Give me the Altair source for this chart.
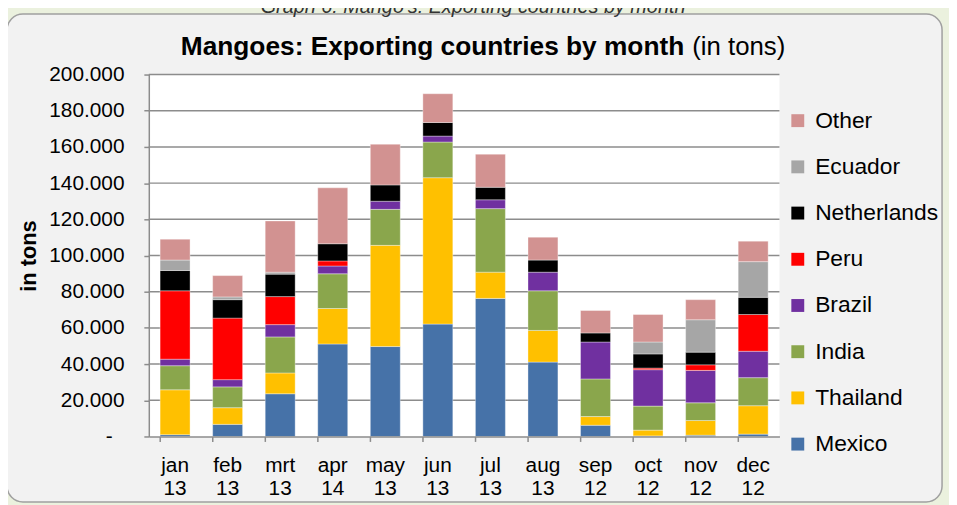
import altair as alt
import pandas as pd

months = ["jan 13", "feb 13", "mrt 13", "apr 14", "may 13", "jun 13",
          "jul 13", "aug 13", "sep 12", "oct 12", "nov 12", "dec 12"]

mexico      = [1000, 6700, 23600, 51100, 49700, 62100, 76300, 41100, 6200, 300, 700, 1300]
thailand    = [24800, 9200, 11500, 19600, 55900, 80900, 14500, 17500, 4800, 3200, 8100, 15700]
india       = [13300, 11500, 19900, 19200, 19900, 19700, 35100, 21900, 20800, 13300, 9800, 15500]
brazil      = [3600, 4000, 6800, 4300, 4500, 3300, 4900, 10300, 20400, 20100, 17900, 14600]
peru        = [37800, 34000, 15500, 2800, 0, 0, 0, 0, 0, 900, 3100, 20300]
netherlands = [11200, 10200, 12400, 9500, 9000, 7500, 6900, 6700, 5000, 7800, 7000, 9500]
ecuador     = [5800, 1500, 1100, 0, 0, 0, 0, 0, 0, 6600, 17900, 19700]
other       = [11500, 11800, 28300, 30900, 22500, 15900, 18300, 12600, 12400, 15200, 11100, 11300]

series_names = ["Mexico", "Thailand", "India", "Brazil", "Peru", "Netherlands", "Ecuador", "Other"]
series_vals = [mexico, thailand, india, brazil, peru, netherlands, ecuador, other]
series_colors = ["#4672a8", "#ffc000", "#8aa64c", "#7030a0", "#ff0000", "#000000", "#a6a6a6", "#d29291"]

y_ticks = [0, 20000, 40000, 60000, 80000, 100000, 120000, 140000, 160000, 180000, 200000]

title_bold = "Mangoes: Exporting countries by month"
title_rest = "(in tons)"
caption = "Graph 6: Mango's: Exporting countries by month"

rows = []
for rank, (name, vals) in enumerate(zip(series_names, series_vals)):
    for m, v in zip(months, vals):
        if v > 0:
            rows.append({"month": m, "country": name, "tons": v, "rank": rank})
df = pd.DataFrame(rows)

W, H = 636, 365
FONT = "Liberation Sans"
GRAY = "#8c8c8c"

legend_order = list(reversed(series_names))
legend_colors = list(reversed(series_colors))

one = pd.DataFrame({"k": [0]})
yscale = alt.Scale(domain=[0, 200000], nice=False)
yaxis = alt.Axis(title="in tons", values=y_ticks, grid=False,
                 labelExpr="datum.value == 0 ? '-' : format(datum.value / 1000, 'd') + '.000'",
                 labelFontSize=21, labelFont=FONT, labelColor="#000000",
                 labelPadding={"condition": {"test": "datum.value == 0", "value": 32}, "value": 20},
                 tickSize=5, tickColor=GRAY, tickWidth=1.5,
                 domainColor=GRAY, domainWidth=1.5,
                 titleFontSize=22, titleFont=FONT, titleFontWeight="bold",
                 titleColor="#000000", titlePadding=8, labelOverlap=False, zindex=1)

panel = alt.Chart(one).mark_rect(
    cornerRadius=16, fill="#f2f2f2", stroke="#a0a0a0", strokeWidth=1.5
).encode(x=alt.value(-143), x2=alt.value(800), y=alt.value(-61), y2=alt.value(431))

plotbg = alt.Chart(one).mark_rect(fill="white").encode(
    x=alt.value(0), x2=alt.value(W), y=alt.value(0), y2=alt.value(H))

grid = alt.Chart(pd.DataFrame({"v": y_ticks[1:]})).mark_rule(
    color=GRAY, strokeWidth=1.5
).encode(
    y=alt.Y("v:Q", scale=yscale, axis=yaxis),
    x=alt.value(0), x2=alt.value(W))

bars = alt.Chart(df).mark_bar(stroke="#ffffff", strokeWidth=0.6, strokeOpacity=0.6).encode(
    x=alt.X("month:N", sort=months,
            scale=alt.Scale(paddingInner=0.43, paddingOuter=0.215),
            axis=alt.Axis(title=None, labelAngle=0, labelExpr="split(datum.label, ' ')",
                          labelFontSize=21, labelLineHeight=24, labelColor="#000000",
                          labelFont=FONT, labelPadding=13, tickSize=5, tickColor=GRAY,
                          tickWidth=1.5, domainColor=GRAY, domainWidth=1.5,
                          bandPosition=0, labelOverlap=False,
                          labelBaseline="top", zindex=1)),
    y=alt.Y("tons:Q", stack="zero", scale=yscale, axis=yaxis),
    color=alt.Color("country:N",
                    scale=alt.Scale(domain=legend_order, range=legend_colors),
                    legend=alt.Legend(title=None, orient="none", legendX=643, legendY=35,
                                      symbolType="square", symbolSize=169,
                                      symbolStrokeWidth=0, labelFontSize=23, labelFont=FONT,
                                      labelColor="#000000", rowPadding=22.6, labelOffset=6,
                                      padding=0)),
    order=alt.Order("rank:Q", sort="ascending"),
)

t1 = alt.Chart(pd.DataFrame({"t": [title_bold]})).mark_text(
    align="right", baseline="alphabetic", fontSize=26.5, fontWeight="bold", font=FONT, color="#000000"
).encode(x=alt.value(540), y=alt.value(-20), text="t:N")

t2 = alt.Chart(pd.DataFrame({"t": [title_rest]})).mark_text(
    align="left", baseline="alphabetic", fontSize=26, font=FONT, color="#000000"
).encode(x=alt.value(548), y=alt.value(-20), text="t:N")

cap = alt.Chart(pd.DataFrame({"t": [caption]})).mark_text(
    align="center", baseline="alphabetic", fontSize=20, fontStyle="italic", font=FONT, color="#333333"
).encode(x=alt.value(327), y=alt.value(-62), text="t:N")

chart = alt.layer(panel, plotbg, grid, bars, t1, t2, cap).properties(
    width=W, height=H,
    autosize=alt.AutoSizeParams(type="none"),
    padding={"left": 142, "top": 65, "right": 171, "bottom": 67},
    background="#ebf1de",
).configure_view(stroke=None).configure(font=FONT)

chart.save("out.html", embed_options={"renderer": "svg", "actions": False})
